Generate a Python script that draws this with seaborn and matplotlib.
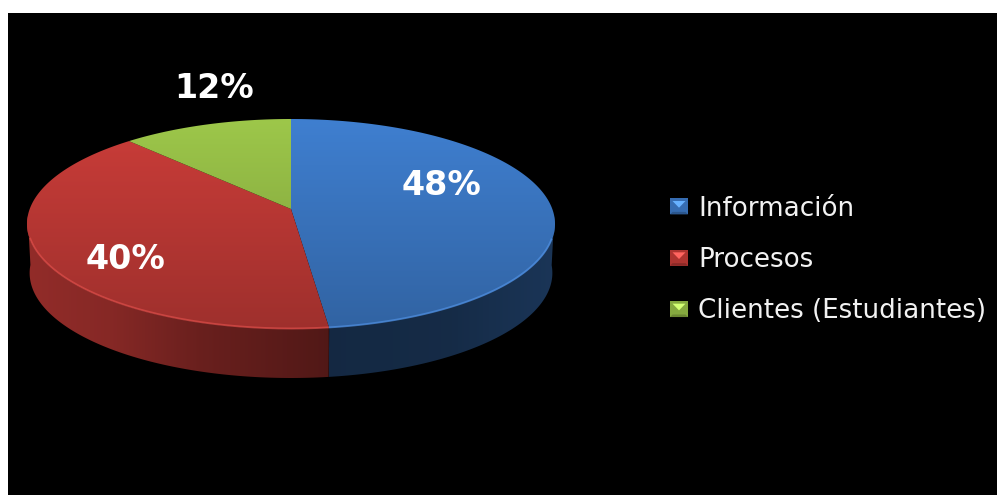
import numpy as np
import matplotlib
matplotlib.use("Agg")
import matplotlib.pyplot as plt
from matplotlib.colors import to_rgb
from matplotlib.legend_handler import HandlerBase
from matplotlib.patches import Patch, Polygon
import seaborn as sns

categories = ["Información", "Procesos", "Clientes (Estudiantes)"]
shares = [48, 40, 12]
slice_colors = ["#3f7fd0", "#cb3d39", "#9dc74a"]

W, H = 997, 495
PANEL_LEFT, PANEL_TOP = 8, 13

# Tilted-disc projection, in pixel units of the panel
CX, CY = 291.0, 209.0
AX_X, AX_Y, TILT = 261.3, 102.86, 1 / 7
DEPTH = 49.0

sns.set_theme(style="white")
plt.rcParams["font.family"] = ["DejaVu Sans"]


def project(theta):
    """Rim point of the disc; theta runs clockwise from twelve o'clock."""
    u, v = np.sin(theta), np.cos(theta)
    d = 1 + TILT * v
    return CX + AX_X * u / d, CY - AX_Y * v / d


def gradient_fill(ax, pts, rgb_rows, extent, horizontal=False, zorder=2):
    """Paint a gradient image clipped to the polygon pts."""
    clip = Polygon(pts, closed=True, transform=ax.transData, fc="none", ec="none")
    ax.add_patch(clip)
    img = rgb_rows[None, :, :] if horizontal else rgb_rows[:, None, :]
    im = ax.imshow(img, extent=extent, origin="upper", aspect="auto",
                   interpolation="bilinear", zorder=zorder)
    im.set_clip_path(clip)


def side_shade(x):
    # Light falling on the wall of the disc, strongest at the far left
    return np.interp(x, [27, 110, 200, 327.9, 328.1, 450, 555],
                     [0.72, 0.66, 0.52, 0.40, 0.32, 0.34, 0.42])


class BevelHandler(HandlerBase):
    """Legend key drawn as a small bevelled square."""

    def create_artists(self, legend, orig, xd, yd, w, h, fontsize, trans):
        base = np.array(to_rgb(orig.get_facecolor()))
        x0, y0 = -xd, -yd
        m = w * 0.14
        tl, tr = (x0, y0 + h), (x0 + w, y0 + h)
        bl, br = (x0, y0), (x0 + w, y0)
        notch = (x0 + w / 2, y0 + h * 0.42)
        inner_l, inner_r = (x0 + m, y0 + h - m), (x0 + w - m, y0 + h - m)
        square = Polygon([tl, tr, br, bl], closed=True, fc=base * 0.85, ec="none",
                         transform=trans)
        lower = Polygon([bl, br, (x0 + w - m, y0 + m), (x0 + m, y0 + m)], closed=True,
                        fc=base * 0.68, ec="none", transform=trans)
        glint = Polygon([inner_l, inner_r, notch], closed=True,
                        fc=np.clip(base * 1.15 + 0.12, 0, 1), ec="none", transform=trans)
        return [square, lower, glint]


fig = plt.figure(figsize=(W / 100, H / 100), dpi=100, facecolor="white")
ax = fig.add_axes([PANEL_LEFT / W, 0, (W - PANEL_LEFT) / W, (H - PANEL_TOP) / H])
ax.set_facecolor("black")
ax.set_axis_off()
fig.patches.append(plt.Rectangle((PANEL_LEFT / W, 0), (W - PANEL_LEFT) / W,
                                 (H - PANEL_TOP) / H, transform=fig.transFigure,
                                 fc="black", ec="none", zorder=-1))

edges = np.cumsum([0] + shares) / sum(shares) * 2 * np.pi
palette = sns.color_palette(slice_colors)

# Wall of the disc; its lower edge sits slightly inside the upper one
for start, stop, col in zip(edges[:-1], edges[1:], palette):
    th = np.linspace(start, stop, 240)
    x, y = project(th)
    keep = y >= 215
    if not keep.any():
        continue
    x, y = x[keep], y[keep]
    lower_x = CX + (x - CX) * 0.99
    pts = np.r_[np.c_[x, y], np.c_[lower_x, y + DEPTH][::-1]]
    xs = np.linspace(x.min(), x.max(), 300)
    rows = np.outer(side_shade(xs), np.array(col))
    gradient_fill(ax, pts, rows, (x.min(), x.max(), 400, 200), horizontal=True, zorder=2)

# Top face, with a soft lit edge along the front of the rim
for start, stop, col in zip(edges[:-1], edges[1:], palette):
    th = np.linspace(start, stop, 240)
    x, y = project(th)
    pts = np.r_[[[CX, CY]], np.c_[x, y]]
    ys = np.linspace(119, 330, 200)
    t = (ys - 119) / 211
    rows = np.outer(1.0 - 0.22 * t, np.array(col))
    gradient_fill(ax, pts, rows, (0, 600, 330, 119), zorder=3)
    front = y > 238
    if front.any():
        rim = np.clip(np.array(col) * 1.02 + 0.07, 0, 1)
        ax.plot(x[front] - np.sign(x[front] - CX) * 0.5, y[front] - 0.5, color=rim,
                lw=1.4, alpha=0.65, zorder=4, solid_capstyle="butt")

# Value labels
label_xy = [(441, 182), (125, 256), (214, 85)]
for (lx, ly), share in zip(label_xy, shares):
    ax.text(lx, ly, f"{share}%", color="white", fontsize=24, fontweight="bold",
            ha="center", va="center_baseline", zorder=6)

ax.set_xlim(PANEL_LEFT, W)
ax.set_ylim(H, PANEL_TOP)

handles = [Patch(facecolor=c, label=n) for c, n in zip(palette, categories)]
leg = ax.legend(handles=handles, handler_map={Patch: BevelHandler()},
                loc="center left", bbox_to_anchor=(670, 260),
                bbox_transform=ax.transData, frameon=False, fontsize=18.8,
                labelcolor="#f2f2f2", borderpad=0, borderaxespad=0,
                handlelength=0.69, handleheight=0.56, handletextpad=0.38,
                labelspacing=0.97)

fig.savefig("out.png", dpi=100, facecolor="white")
